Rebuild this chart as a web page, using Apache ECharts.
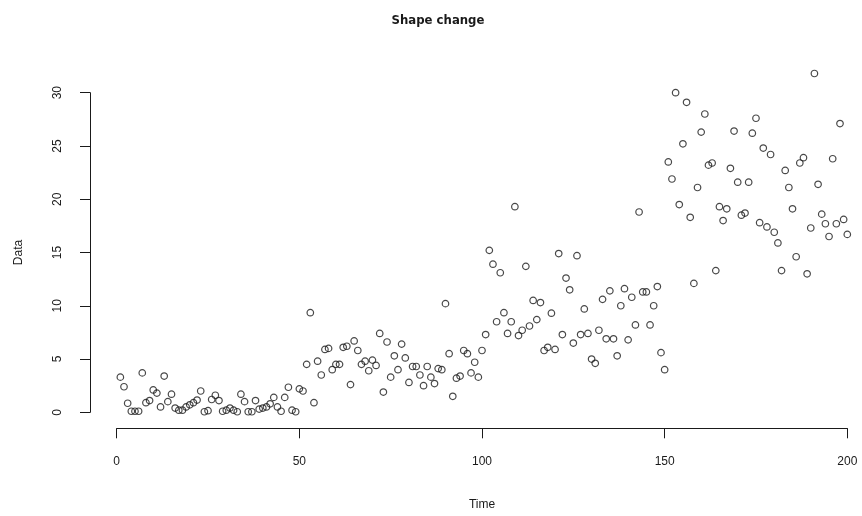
<!DOCTYPE html>
<html>
<head>
<meta charset="utf-8">
<script src="https://cdn.jsdelivr.net/npm/echarts@6/dist/echarts.min.js"></script>
<style>
  html, body { margin: 0; padding: 0; background: #fff; }
  #chart { width: 862px; height: 516px; }
</style>
</head>
<body>
<div id="chart"></div>
<script>
// observed values, one per time step (1..200)
const data = [
  3.3, 2.4, 0.85, 0.1, 0.1, 0.1, 3.7, 0.9, 1.1, 2.1,
  1.8, 0.5, 3.4, 1.0, 1.7, 0.4, 0.2, 0.2, 0.5, 0.7,
  0.9, 1.15, 2.0, 0.05, 0.15, 1.2, 1.6, 1.1, 0.1, 0.2,
  0.4, 0.2, 0.05, 1.7, 1.0, 0.05, 0.05, 1.1, 0.3, 0.4,
  0.5, 0.8, 1.4, 0.5, 0.1, 1.4, 2.35, 0.2, 0.05, 2.2,
  2.0, 4.5, 9.35, 0.9, 4.8, 3.5, 5.9, 6.0, 4.0, 4.5,
  4.5, 6.1, 6.2, 2.6, 6.7, 5.8, 4.5, 4.8, 3.9, 4.9,
  4.4, 7.4, 1.9, 6.6, 3.3, 5.3, 4.0, 6.4, 5.1, 2.8,
  4.3, 4.3, 3.5, 2.5, 4.3, 3.3, 2.7, 4.1, 4.0, 10.2,
  5.5, 1.5, 3.2, 3.4, 5.8, 5.5, 3.7, 4.7, 3.3, 5.8,
  7.3, 15.2, 13.9, 8.5, 13.1, 9.35, 7.4, 8.5, 19.3, 7.2,
  7.7, 13.7, 8.1, 10.5, 8.7, 10.3, 5.8, 6.1, 9.3, 5.9,
  14.9, 7.3, 12.6, 11.5, 6.5, 14.7, 7.3, 9.7, 7.4, 5.0,
  4.6, 7.7, 10.6, 6.9, 11.4, 6.9, 5.3, 10.0, 11.6, 6.8,
  10.8, 8.2, 18.8, 11.3, 11.3, 8.2, 10.0, 11.8, 5.6, 4.0,
  23.5, 21.9, 30.0, 19.5, 25.2, 29.1, 18.3, 12.1, 21.1, 26.3,
  28.0, 23.2, 23.4, 13.3, 19.3, 18.0, 19.1, 22.9, 26.4, 21.6,
  18.5, 18.7, 21.6, 26.2, 27.6, 17.8, 24.8, 17.4, 24.2, 16.9,
  15.9, 13.3, 22.7, 21.1, 19.1, 14.6, 23.4, 23.9, 13.0, 17.3,
  31.8, 21.4, 18.6, 17.7, 16.5, 23.8, 17.7, 27.1, 18.1, 16.7
];
const time = data.map((_, i) => i + 1);
const xTicks = [0, 50, 100, 150, 200];
const yTicks = [0, 5, 10, 15, 20, 25, 30];

const points = time.map((t, i) => [t, data[i]]);

const font = "'Liberation Sans', Arial, sans-serif";
const ink = '#1a1a1a';

const chart = echarts.init(document.getElementById('chart'), null, { renderer: 'canvas' });

chart.setOption({
  animation: false,
  backgroundColor: '#fff',
  title: {
    text: 'Shape change',
    left: 433,
    top: 9,
    textAlign: 'center',
    textStyle: {
      fontFamily: "'Liberation Sans Narrow', 'DejaVu Sans Condensed', " + font,
      fontWeight: 'bold',
      fontSize: 13,
      color: ink,
    },
  },
  grid: {
    left: 116.7,
    right: 14.7,
    top: 92.7,
    bottom: 103.7,
  },
  xAxis: {
    type: 'value',
    min: xTicks[0],
    max: xTicks[xTicks.length - 1],
    interval: 50,
    offset: 16,
    name: 'Time',
    nameLocation: 'middle',
    nameGap: 70,
    nameTextStyle: { fontFamily: font, fontSize: 12, color: ink },
    axisLine: { show: true, onZero: false, lineStyle: { color: ink, width: 1 } },
    axisTick: { show: true, length: 10, lineStyle: { color: ink } },
    axisLabel: { fontFamily: font, fontSize: 12, color: ink, margin: 27 },
    splitLine: { show: false },
  },
  yAxis: {
    type: 'value',
    min: yTicks[0],
    max: yTicks[yTicks.length - 1],
    interval: 5,
    offset: 26.7,
    name: 'Data',
    nameLocation: 'middle',
    nameGap: 65,
    nameRotate: 90,
    nameTextStyle: { fontFamily: font, fontSize: 12, color: ink },
    axisLine: { show: true, onZero: false, lineStyle: { color: ink, width: 1 } },
    axisTick: { show: true, length: 10, lineStyle: { color: ink } },
    axisLabel: { fontFamily: font, fontSize: 12, color: ink, margin: 26, rotate: 90 },
    splitLine: { show: false },
  },
  series: [
    {
      type: 'scatter',
      data: points,
      symbol: 'circle',
      symbolSize: 6.5,
      clip: false,
      itemStyle: {
        color: 'rgba(0,0,0,0)',
        borderColor: ink,
        borderWidth: 1.2,
      },
    },
  ],
});
</script>
</body>
</html>
